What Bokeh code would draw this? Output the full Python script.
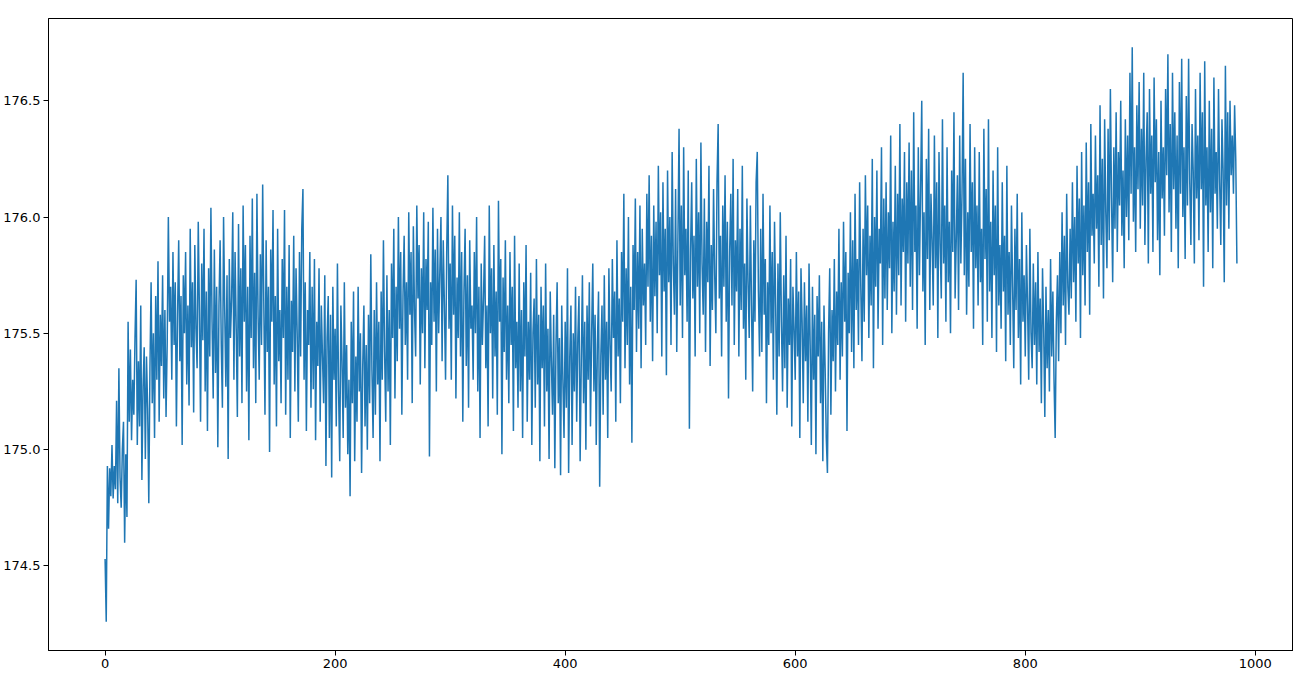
from bokeh.plotting import figure
from bokeh.models import Range1d, FixedTicker
from bokeh.embed import file_html
from bokeh.resources import INLINE

# values (index = position)
values = [
    174.53, 174.26, 174.93, 174.66, 174.92, 174.80, 175.02, 174.79, 174.93, 174.83,
    175.21, 174.77, 175.35, 174.88, 174.75, 175.00, 175.12, 174.60, 174.98, 174.71,
    175.55, 175.12, 175.43, 175.04, 175.30, 175.15, 175.48, 175.73, 175.02, 175.38,
    175.10, 175.62, 174.87, 175.27, 175.44, 174.96, 175.40, 175.18, 174.77, 175.35,
    175.72, 175.20, 175.50, 175.05, 175.66, 175.30, 175.81, 175.12, 175.58, 175.36,
    175.75, 175.22, 175.60, 175.14, 175.46, 176.00, 175.55, 175.70, 175.30, 175.85,
    175.45, 175.72, 175.10, 175.58, 175.90, 175.38, 175.66, 175.02, 175.75, 175.50,
    175.85, 175.28, 175.62, 175.19, 175.95, 175.44, 175.72, 175.16, 175.88, 175.52,
    175.35, 175.98, 175.60, 175.12, 175.80, 175.47, 175.95, 175.25, 175.68, 175.08,
    175.78, 175.40, 176.04, 175.55, 175.22, 175.86, 175.33, 175.70, 175.01, 175.62,
    175.90, 175.45, 175.18, 176.00, 175.60, 175.27, 175.75, 174.96, 175.82, 175.48,
    175.65, 176.02, 175.30, 175.85, 175.52, 175.14, 175.97, 175.40, 175.78, 175.20,
    176.05, 175.55, 175.88, 175.25, 175.70, 175.04, 175.92, 175.48, 176.08, 175.35,
    175.76, 175.20, 176.10, 175.58, 175.30, 175.84, 175.45, 176.14, 175.62, 175.15,
    175.90, 175.42, 175.70, 174.99, 175.86, 175.55, 176.03, 175.28, 175.66, 175.10,
    175.95, 175.38, 175.60, 175.20, 175.82, 175.48, 176.03, 175.15, 175.70, 175.30,
    175.88, 175.05, 175.64, 175.42, 175.92, 175.25, 175.78, 175.50, 175.12, 175.85,
    175.40, 175.95, 176.12, 175.30, 175.72, 175.08, 175.60, 175.45, 175.85, 175.18,
    175.70, 175.26, 175.82, 175.04, 175.55, 175.36, 175.78, 175.12, 175.62, 175.40,
    175.20, 175.75, 174.93, 175.48, 175.66, 175.05, 175.58, 174.88, 175.70, 175.30,
    175.52, 175.10, 175.80, 175.25, 174.95, 175.62, 175.38, 175.05, 175.72, 175.18,
    175.45, 174.98, 175.30, 174.80, 175.55, 175.20, 175.68, 174.95, 175.40, 175.12,
    175.70, 175.25, 175.50, 174.90, 175.36, 175.62, 175.10, 175.45, 175.00, 175.58,
    175.20, 175.84, 175.34, 175.05, 175.60, 175.15, 175.72, 175.28, 175.55, 174.95,
    175.68, 175.30, 175.90, 175.42, 175.12, 175.75, 175.25, 175.60, 175.02, 175.80,
    175.48, 175.95, 175.22, 175.70, 175.38, 176.00, 175.52, 175.85, 175.15, 175.66,
    175.92, 175.45, 175.72, 175.30, 176.02, 175.58, 175.85, 175.20, 175.96, 175.60,
    175.40, 176.05, 175.65, 175.88, 175.28, 175.78, 175.50, 176.02, 175.35, 175.82,
    175.60, 175.98, 174.97, 175.72, 175.45, 176.04, 175.55, 175.86, 175.25, 175.95,
    175.50, 175.76, 176.00, 175.38, 175.90, 175.62, 175.30, 175.85, 176.18, 175.52,
    175.80, 175.30, 176.05, 175.58, 175.92, 175.22, 175.74, 175.48, 176.02, 175.40,
    175.85, 175.12, 175.68, 175.95, 175.36, 175.75, 175.18, 175.90, 175.52, 175.62,
    175.30, 175.85, 175.50, 176.00, 175.25, 175.70, 175.05, 175.80, 175.45, 175.65,
    175.92, 175.35, 175.62, 175.10, 176.05, 175.50, 175.78, 175.22, 175.88, 175.40,
    175.68, 175.15, 176.07, 175.55, 175.82, 174.98, 175.74, 175.42, 175.90, 175.30,
    175.62, 175.20, 175.85, 175.45, 175.70, 175.08, 175.92, 175.35, 175.55, 175.18,
    175.80, 175.25, 175.60, 175.05, 175.72, 175.40, 175.88, 175.12, 175.55, 175.30,
    175.76, 175.02, 175.50, 175.65, 175.18, 175.82, 175.28, 175.58, 174.95, 175.70,
    175.35, 175.62, 175.10, 175.80, 175.25, 175.52, 174.96, 175.68, 175.38, 175.15,
    175.58, 174.92, 175.45, 175.72, 175.20, 175.48, 174.89, 175.62, 175.30, 175.05,
    175.55, 175.18, 175.78, 174.90, 175.40, 175.62, 175.02, 175.50, 175.25, 175.70,
    175.12, 175.48, 175.66, 174.95, 175.38, 175.75, 175.20, 175.55, 175.00, 175.62,
    175.30, 175.72, 175.10, 175.50, 175.80, 175.25, 175.58, 175.02, 175.45, 175.68,
    174.84, 175.40, 175.62, 175.15, 175.75, 175.30, 175.55, 175.05, 175.78, 175.45,
    175.25, 175.82, 175.48, 175.68, 175.12, 175.90, 175.40, 175.65, 175.20, 175.85,
    175.55, 176.10, 175.35, 175.78, 175.45, 176.00, 175.28, 175.70, 175.03, 175.88,
    175.60, 176.08, 175.42, 175.85, 175.52, 176.05, 175.35, 175.95, 175.62, 175.80,
    175.45, 176.10, 175.70, 176.18, 175.55, 175.92, 175.38, 176.05, 175.66, 175.98,
    175.50, 176.22, 175.75, 176.02, 175.40, 176.15, 175.68, 175.95, 175.32, 176.20,
    175.72, 176.00, 175.45, 176.28, 175.80, 175.58, 176.12, 175.42, 175.90, 176.38,
    175.62, 176.05, 175.48, 176.30, 175.75, 175.95, 175.55, 176.20, 175.09, 175.85,
    176.15, 175.65, 175.92, 175.40, 176.25, 175.70, 176.02, 175.50, 176.32, 175.80,
    175.58, 176.08, 175.42, 175.98, 175.72, 176.22, 175.36, 175.88, 175.60, 176.12,
    175.75, 175.50, 176.15, 176.40, 175.65, 175.92, 175.40, 176.05, 175.70, 176.18,
    175.55, 175.98, 175.22, 175.85, 176.10, 175.62, 176.25, 175.45, 175.90, 175.68,
    176.12, 175.40, 175.95, 175.60, 176.22, 175.52, 175.80, 175.30, 176.08, 175.72,
    175.48, 176.05, 175.62, 175.25, 175.90, 175.55, 176.15, 176.28, 175.68, 175.40,
    175.95, 175.42, 176.10, 175.58, 175.82, 175.20, 175.72, 175.45, 176.05, 175.50,
    175.85, 175.30, 175.98, 175.62, 175.15, 175.80, 175.40, 176.02, 175.55, 175.25,
    175.75, 175.35, 175.92, 175.18, 175.65, 175.45, 175.82, 175.10, 175.70, 175.52,
    175.30, 175.85, 175.40, 175.68, 175.05, 175.78, 175.55, 175.20, 175.72, 175.38,
    175.62, 175.12, 175.80, 175.45, 175.02, 175.70, 175.30, 175.58, 174.98, 175.66,
    175.40, 175.75, 175.20, 175.55, 174.95, 175.62, 175.35, 175.05, 174.90, 175.50,
    175.78, 175.15, 175.60, 175.38, 175.82, 175.25, 175.68, 175.45, 175.95, 175.30,
    175.72, 175.40, 175.98, 175.55, 175.85, 175.08, 175.76, 175.50, 176.02, 175.42,
    175.90, 175.35, 176.10, 175.60, 175.82, 175.45, 176.15, 175.70, 175.38, 175.95,
    175.55, 176.18, 175.75, 176.05, 175.48, 175.92, 175.62, 176.25, 175.35, 176.00,
    175.70, 176.20, 175.52, 175.95, 175.80, 176.30, 175.45, 176.08, 175.65, 176.15,
    175.60, 176.02, 175.78, 176.35, 175.50, 175.98, 175.68, 176.22, 175.58, 176.10,
    175.75, 176.40, 175.62, 176.08, 175.85, 176.28, 175.55, 176.15, 175.80, 176.32,
    175.70, 176.20, 175.60, 176.45, 175.85, 176.05, 175.52, 176.30, 175.75, 176.12,
    176.50, 175.68, 176.02, 175.45, 176.25, 175.82, 176.38, 175.60, 176.10, 175.90,
    175.62, 176.35, 175.78, 176.15, 175.48, 176.28, 175.88, 175.65, 176.42, 175.80,
    176.05, 175.55, 176.30, 175.72, 175.98, 175.50, 176.20, 175.85, 176.45, 175.65,
    175.90, 176.18, 175.60, 176.35, 175.80, 176.10, 176.62, 175.75, 176.25, 175.58,
    176.02, 175.70, 176.40, 175.85, 176.15, 175.52, 176.30, 175.78, 176.05, 175.62,
    176.28, 175.72, 175.95, 175.45, 176.38, 175.82, 176.12, 175.55, 176.42, 175.68,
    175.98, 175.48, 176.20, 175.75, 176.05, 175.42, 176.30, 175.62, 175.88, 175.52,
    176.15, 175.68, 175.92, 175.38, 176.22, 175.58, 175.85, 175.45, 176.05, 175.70,
    175.35, 175.95, 175.60, 176.10, 175.48, 175.82, 175.28, 176.02, 175.55, 175.75,
    175.40, 175.88, 175.62, 175.30, 175.95, 175.50, 175.35, 175.80, 175.45, 175.72,
    175.28, 175.85, 175.42, 175.65, 175.20, 175.78, 175.52, 175.14, 175.70, 175.35,
    175.60, 175.25, 175.82, 175.40, 175.68, 175.30, 175.05, 175.55, 175.75, 175.38,
    175.85, 175.50, 176.02, 175.62, 175.92, 175.45, 176.10, 175.70, 175.58, 175.95,
    175.65, 176.15, 175.72, 176.00, 175.55, 176.22, 175.80, 176.08, 175.48, 176.28,
    175.75, 176.05, 175.62, 176.32, 175.85, 176.15, 175.58, 176.40, 175.92, 176.10,
    175.80, 176.35, 175.95, 176.18, 175.70, 176.48, 175.88, 176.25, 175.65, 176.42,
    176.02, 175.78, 176.38, 175.90, 176.55, 176.08, 175.72, 176.30, 175.95, 176.45,
    175.85, 176.28, 176.05, 176.50, 175.92, 176.20, 175.78, 176.42, 176.00, 176.35,
    175.90, 176.62, 176.10, 176.73, 175.98, 176.30, 175.85, 176.48, 176.12, 176.58,
    175.95, 176.38, 176.05, 176.62, 175.88, 176.25, 176.45, 175.80, 176.55, 176.10,
    176.35, 175.85, 176.60, 176.15, 176.42, 175.90, 176.28, 175.75, 176.50, 176.08,
    176.30, 175.92, 176.55, 176.18, 176.70, 176.02, 176.40, 175.85, 176.62, 176.12,
    176.45, 175.95, 176.35, 175.78, 176.58, 176.10, 176.68, 176.00, 176.30, 175.82,
    176.52, 176.05, 176.68, 176.15, 175.88, 176.40, 176.20, 175.80, 176.55, 176.08,
    176.35, 175.90, 176.62, 176.12, 176.45, 175.70, 176.67, 176.05, 176.30, 175.85,
    176.50, 176.02, 176.38, 175.78, 176.60, 176.10, 176.28, 175.95, 176.55, 176.15,
    175.88, 176.42, 176.20, 175.72, 176.65, 176.05, 176.45, 175.95, 176.50, 176.18,
    176.35, 176.10, 176.48, 176.25, 175.80,
]
steps = list(range(len(values)))

x_ticks = [0, 200, 400, 600, 800, 1000]
y_ticks = [174.5, 175.0, 175.5, 176.0, 176.5]

lo, hi = min(values), max(values)
pad_y = (hi - lo) * 0.05
pad_x = (len(values) - 1) * 0.05

p = figure(width=1293, height=670, output_backend="svg", toolbar_location=None,
           x_range=Range1d(-pad_x, len(values) - 1 + pad_x),
           y_range=Range1d(lo - pad_y, hi + pad_y),
           min_border_left=40, min_border_right=0, min_border_top=18, min_border_bottom=18)

p.line(steps, values, line_color="#1f77b4", line_width=1.5)

p.grid.visible = False
p.outline_line_color = "black"
p.outline_line_width = 1
p.background_fill_color = "white"
p.border_fill_color = "white"

p.xaxis.ticker = FixedTicker(ticks=x_ticks)
p.yaxis.ticker = FixedTicker(ticks=y_ticks)
p.yaxis.major_label_overrides = {t: f"{t:.1f}" for t in y_ticks}
for ax in (p.xaxis[0], p.yaxis[0]):
    ax.axis_line_color = "black"
    ax.major_tick_out = 5
    ax.major_tick_in = 0
    ax.minor_tick_out = 0
    ax.minor_tick_in = 0
    ax.major_tick_line_color = "black"
    ax.major_label_text_font = "DejaVu Sans"
    ax.major_label_text_font_size = "13px"
    ax.major_label_text_color = "black"
    ax.major_label_standoff = 3

open("out.html", "w").write(file_html(p, INLINE))
